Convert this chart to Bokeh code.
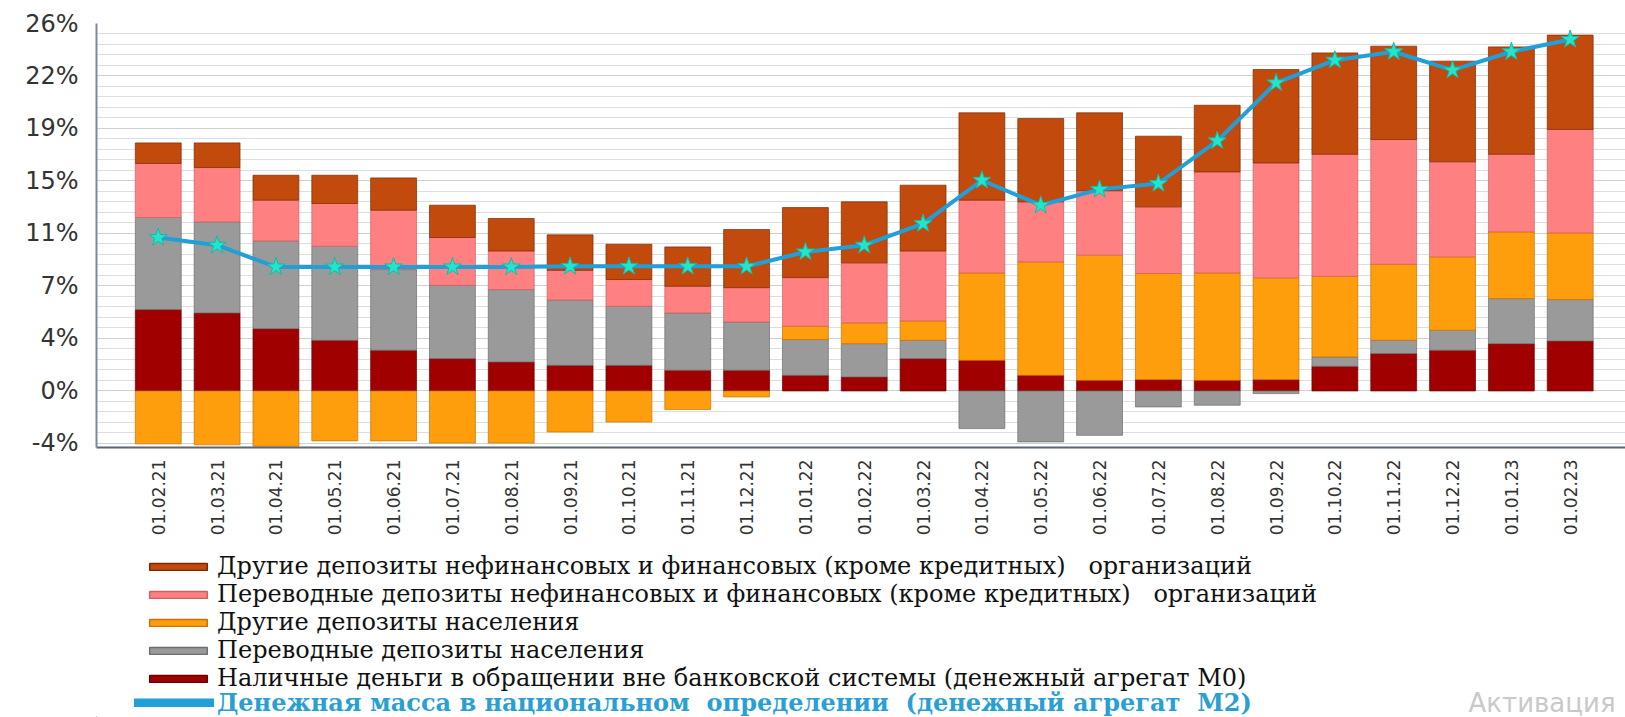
import numpy as np
from bokeh.plotting import figure
from bokeh.layouts import column
from bokeh.models import Range1d, FixedTicker, Legend, LegendItem, Label
from bokeh.embed import file_html
from bokeh.resources import INLINE

# ---------------- data ----------------
dates = ["01.02.21", "01.03.21", "01.04.21", "01.05.21", "01.06.21", "01.07.21",
         "01.08.21", "01.09.21", "01.10.21", "01.11.21", "01.12.21", "01.01.22",
         "01.02.22", "01.03.22", "01.04.22", "01.05.22", "01.06.22", "01.07.22",
         "01.08.22", "01.09.22", "01.10.22", "01.11.22", "01.12.22", "01.01.23",
         "01.02.23"]

# Наличные деньги в обращении вне банковской системы (M0)
cash_m0 = [5.81, 5.57, 4.45, 3.62, 2.91, 2.31, 2.07, 1.83, 1.83, 1.48, 1.48, 1.12,
           1.00, 2.31, 2.19, 1.12, 0.76, 0.81, 0.76, 0.81, 1.76, 2.67, 2.91, 3.38, 3.57]
# Переводные депозиты населения
hh_transfer = [6.58, 6.51, 6.27, 6.72, 5.76, 5.24, 5.17, 4.67, 4.22, 4.09, 3.45, 2.55,
               2.38, 1.31, -2.69, -3.64, -3.17, -1.14, -1.02, -0.19, 0.67, 0.95, 1.43, 3.22, 2.96]
# Другие депозиты населения
hh_other = [-3.78, -3.85, -3.95, -3.57, -3.57, -3.72, -3.72, -2.93, -2.22, -1.33, -0.43, 0.95,
            1.48, 1.38, 6.24, 8.10, 8.94, 7.58, 7.67, 7.27, 5.76, 5.43, 5.24, 4.76, 4.76]
# Переводные депозиты нефинансовых и финансовых организаций
org_transfer = [3.86, 3.88, 2.91, 3.05, 4.24, 3.41, 2.76, 2.12, 1.91, 1.91, 2.45, 3.48,
                4.29, 5.00, 5.20, 4.29, 4.60, 4.76, 7.22, 8.21, 8.72, 8.91, 6.79, 5.55, 7.39]
# Другие депозиты нефинансовых и финансовых организаций
org_other = [1.47, 1.76, 1.78, 2.02, 2.31, 2.31, 2.32, 2.53, 2.52, 2.81, 4.15, 5.00,
             4.36, 4.70, 6.24, 5.95, 5.57, 5.05, 4.76, 6.67, 7.24, 6.67, 7.19, 7.67, 6.74]
# Денежная масса M2
m2 = [10.96, 10.41, 8.86, 8.86, 8.86, 8.86, 8.86, 8.90, 8.90, 8.90, 8.90, 9.93,
      10.41, 11.96, 15.05, 13.27, 14.40, 14.82, 17.87, 22.01, 23.63, 24.23, 22.92, 24.23, 25.11]

y_ticks = [-3.75, 0, 3.75, 7.5, 11.25, 15, 18.75, 22.5, 26.25]
y_tick_labels = ["-4%", "0%", "4%", "7%", "11%", "15%", "19%", "22%", "26%"]

labels = {
    "org_other": "Другие депозиты нефинансовых и финансовых (кроме кредитных)   организаций",
    "org_transfer": "Переводные депозиты нефинансовых и финансовых (кроме кредитных)   организаций",
    "hh_other": "Другие депозиты населения",
    "hh_transfer": "Переводные депозиты населения",
    "cash_m0": "Наличные деньги в обращении вне банковской системы (денежный агрегат М0)",
    "m2": "Денежная масса в национальном  определении  (денежный агрегат  М2)",
}
watermark = "Активация"

# ---------------- main chart ----------------
n = len(dates)
xs = np.arange(n)

p = figure(width=1625, height=552, output_backend="svg", toolbar_location=None,
           x_range=Range1d(-1.05, n - 1 + 0.94), y_range=Range1d(-4.04, 26.25),
           min_border_left=96, min_border_right=0, min_border_top=23, min_border_bottom=105)
p.outline_line_color = None

p.yaxis.ticker = FixedTicker(ticks=y_ticks,
                             minor_ticks=list(np.arange(-3.75, 26.26, 0.75)))
p.yaxis.major_label_overrides = {t: l for t, l in zip(y_ticks, y_tick_labels)}
p.yaxis.major_label_text_font = "DejaVu Sans"
p.yaxis.major_label_text_font_size = "24px"
p.yaxis.major_label_text_color = "#333333"
p.yaxis.major_label_standoff = 12
p.yaxis.major_tick_line_color = None
p.yaxis.minor_tick_line_color = None
p.yaxis.axis_line_color = "#7f8a99"
p.yaxis.axis_line_width = 2

p.xaxis.ticker = FixedTicker(ticks=list(xs))
p.xaxis.major_label_overrides = {int(i): d for i, d in zip(xs, dates)}
p.xaxis.major_label_orientation = np.pi / 2
p.xaxis.major_label_text_font = "DejaVu Sans"
p.xaxis.major_label_text_font_size = "17px"
p.xaxis.major_label_text_color = "#333333"
p.xaxis.major_label_standoff = 6
p.xaxis.major_tick_line_color = None
p.xaxis.minor_tick_line_color = None
p.xaxis.axis_line_color = "#5c6773"
p.xaxis.axis_line_width = 2

p.xgrid.grid_line_color = None
p.ygrid.grid_line_color = "#d0d0d0"
p.ygrid.minor_grid_line_color = "#dedede"

series = [
    ("cash_m0", cash_m0, "#a00000", "#6a0000"),
    ("hh_transfer", hh_transfer, "#9a9a9a", "#6e6e6e"),
    ("hh_other", hh_other, "#ff9e0c", "#c77400"),
    ("org_transfer", org_transfer, "#ff8080", "#d06060"),
    ("org_other", org_other, "#c24a0c", "#7a2a00"),
]
style = {}
pos_base = np.zeros(n)
neg_base = np.zeros(n)
for key, vals, color, edge in series:
    v = np.array(vals, dtype=float)
    bottom = np.where(v >= 0, pos_base, neg_base)
    top = bottom + v
    pos_base = np.where(v >= 0, top, pos_base)
    neg_base = np.where(v < 0, top, neg_base)
    p.vbar(x=xs, bottom=bottom, top=top, width=0.78, fill_color=color,
           line_color=edge, line_width=1, line_alpha=0.7)
    style[key] = (color, edge)

p.line(xs, m2, line_color="#1fa0d9", line_width=4)
p.scatter(xs, m2, marker="star", size=19, fill_color="#22e6cc", line_color="#18b8a8")

# ---------------- legend panel ----------------
lg = figure(width=1625, height=165, output_backend="svg", toolbar_location=None,
            x_range=Range1d(0, 1), y_range=Range1d(0, 1),
            x_axis_location=None, y_axis_location=None,
            min_border_left=96, min_border_right=0, min_border_top=0, min_border_bottom=0)
lg.grid.visible = False
lg.outline_line_color = None

items1 = []
for key in ["org_other", "org_transfer", "hh_other", "hh_transfer", "cash_m0"]:
    color, edge = style[key]
    r = lg.vbar(x=[-10], top=[-10], bottom=[-11], width=0.5, fill_color=color,
                line_color=edge, line_width=1.5)
    items1.append(LegendItem(label=labels[key], renderers=[r]))
rline = lg.line(x=[-10, -9], y=[-10, -10], line_color="#1fa0d9", line_width=9,
                line_cap="round")

common = dict(orientation="vertical", glyph_height=9, spacing=-4,
              padding=0, margin=0, label_standoff=3, border_line_color=None,
              background_fill_alpha=0, label_text_font="DejaVu Serif",
              label_text_font_size="24px", label_height=25)
leg1 = Legend(items=items1, location=(46, 25), glyph_width=72,
              label_text_color="#111111", **common)
leg2 = Legend(items=[LegendItem(label=labels["m2"], renderers=[rline])],
              location=(38, 0), glyph_width=80, label_text_color="#2a9fd4",
              label_text_font_style="bold", **common)
lg.add_layout(leg1)
lg.add_layout(leg2)

lg.add_layout(Label(x=1372, y=15, x_units="screen", y_units="screen", text=watermark,
                    text_font="DejaVu Sans", text_font_size="26px", text_color="#c9c9c9",
                    text_baseline="middle"))

open("out.html", "w").write(file_html(column(p, lg, spacing=0), INLINE))
